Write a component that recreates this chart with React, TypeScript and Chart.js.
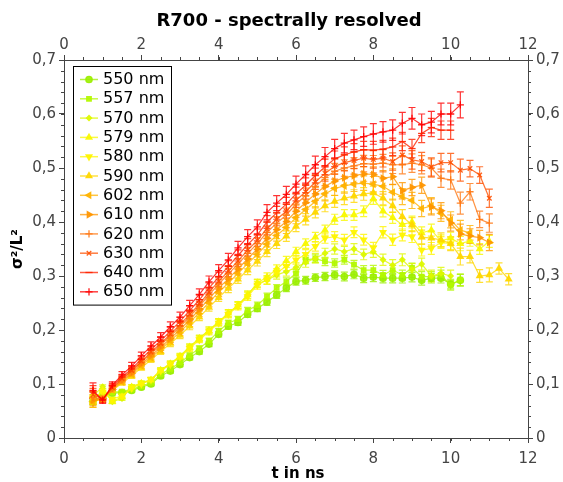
import React, { useEffect, useRef } from 'react';
import { Chart, registerables } from 'chart.js';
import { drawPoint } from 'chart.js/helpers';

Chart.register(...registerables);

const TITLE = 'R700 - spectrally resolved';
const X_TITLE = 't in ns';
const Y_TITLE = 'σ²/L²';
const X_MIN = 0;
const X_MAX = 12;
const X_STEP = 2;
const X_MINOR = 0.5;
const Y_MIN = 0;
const Y_MAX = 0.7;
const Y_STEP = 0.1;
const Y_MINOR = 0.02;

const TIMES = [
  0.75, 1, 1.25, 1.5, 1.75, 2, 2.25, 2.5, 2.75, 3, 3.25, 3.5, 3.75, 4, 4.25, 4.5, 4.75, 5, 5.25, 5.5, 5.75, 6,
  6.25, 6.5, 6.75, 7, 7.25, 7.5, 7.75, 8, 8.25, 8.5, 8.75, 9, 9.25, 9.5, 9.75, 10, 10.25, 10.5, 10.75, 11, 11.25, 11.5,
];

// typical half-width of the error bars at each time
const ERR = [
  0.014, 0.006, 0.006, 0.006, 0.007, 0.007, 0.008, 0.008, 0.009, 0.009, 0.010, 0.010, 0.011, 0.011, 0.012, 0.012,
  0.013, 0.013, 0.014, 0.014, 0.015, 0.015, 0.016, 0.016, 0.017, 0.017, 0.018, 0.018, 0.018, 0.019, 0.019, 0.019,
  0.020, 0.020, 0.020, 0.020, 0.020, 0.020, 0.024, 0.018, 0.018, 0.020, 0.016, 0.016,
];

const LABELS = ['550 nm', '557 nm', '570 nm', '579 nm', '580 nm', '590 nm', '602 nm', '610 nm', '620 nm', '630 nm', '640 nm', '650 nm'];
const COLORS = [
  [155, 238, 0], [180, 248, 0], [222, 248, 0], [248, 248, 0], [255, 245, 0], [255, 215, 0],
  [255, 178, 0], [255, 150, 0], [255, 120, 20], [255, 80, 0], [255, 35, 0], [255, 0, 0],
];
const MARKERS = ['circle', 'rect', 'rectRot', 'triangle', 'triangle', 'triangle', 'triangle', 'triangle', 'cross', 'crossRot', 'line', 'cross'];
const ROTATIONS = [0, 0, 0, 0, 180, 0, 270, 90, 0, 0, 0, 0];
const RADII = [3.2, 3.2, 2.6, 3.4, 3.4, 3.4, 3.4, 3.4, 3.6, 3.2, 3.6, 3.6];
const ERR_SCALE = [0.45, 0.45, 0.55, 0.55, 0.55, 0.65, 0.75, 0.75, 0.85, 0.85, 0.85, 1.0];

const S550 = [
  0.068, 0.076, 0.083, 0.084, 0.088, 0.094, 0.100, 0.115, 0.124, 0.136, 0.149, 0.160, 0.174, 0.192, 0.207, 0.214,
  0.229, 0.240, 0.252, 0.265, 0.278, 0.290, 0.292, 0.297, 0.299, 0.302, 0.299, 0.303, 0.296, 0.298, 0.296, 0.296,
  0.296, 0.298, 0.292, 0.296, 0.296, 0.285, 0.292,
];
const S557 = [
  0.068, 0.078, 0.085, 0.086, 0.090, 0.096, 0.102, 0.118, 0.128, 0.140, 0.153, 0.166, 0.180, 0.198, 0.213, 0.220,
  0.236, 0.246, 0.262, 0.278, 0.290, 0.305, 0.330, 0.332, 0.327, 0.324, 0.330, 0.321, 0.311, 0.311, 0.302, 0.311,
  0.302, 0.315, 0.299, 0.299, 0.302, 0.283, 0.293,
];
const S570 = [
  0.078, 0.095, 0.067, 0.073, 0.095, 0.102, 0.108, 0.126, 0.138, 0.152, 0.169, 0.185, 0.200, 0.215, 0.231, 0.246,
  0.265, 0.286, 0.292, 0.302, 0.308, 0.316, 0.325, 0.333, 0.342, 0.350, 0.345, 0.350, 0.340, 0.345, 0.330, 0.320,
  0.330, 0.312, 0.322, 0.300, 0.305, 0.300,
];
const S579 = [
  0.070, 0.088, 0.068, 0.076, 0.094, 0.101, 0.107, 0.125, 0.137, 0.151, 0.168, 0.184, 0.199, 0.215, 0.231, 0.246,
  0.265, 0.287, 0.298, 0.313, 0.328, 0.345, 0.360, 0.372, 0.385, 0.405, 0.413, 0.413, 0.420, 0.443, 0.420, 0.408,
  0.395, 0.400, 0.380, 0.385, 0.365, 0.370, 0.360, 0.365, 0.350, 0.364,
];
const S580 = [
  0.072, 0.085, 0.072, 0.078, 0.092, 0.100, 0.108, 0.124, 0.136, 0.150, 0.166, 0.182, 0.197, 0.213, 0.229, 0.244,
  0.262, 0.283, 0.293, 0.306, 0.318, 0.330, 0.340, 0.355, 0.370, 0.373, 0.367, 0.381, 0.367, 0.352, 0.381, 0.367,
  0.376, 0.373, 0.348, 0.351, 0.362, 0.360,
];
const S590 = [
  0.066, 0.074, 0.088, 0.102, 0.115, 0.130, 0.145, 0.160, 0.175, 0.190, 0.207, 0.224, 0.242, 0.260, 0.277, 0.294,
  0.311, 0.327, 0.345, 0.360, 0.374, 0.392, 0.405, 0.418, 0.430, 0.438, 0.444, 0.448, 0.452, 0.454, 0.444, 0.430,
  0.410, 0.395, 0.372, 0.370, 0.367, 0.360, 0.336, 0.336, 0.300, 0.302, 0.314, 0.294,
];
const S602 = [
  0.067, 0.073, 0.089, 0.104, 0.118, 0.134, 0.149, 0.164, 0.180, 0.196, 0.214, 0.232, 0.251, 0.270, 0.287, 0.305,
  0.323, 0.340, 0.359, 0.375, 0.390, 0.408, 0.423, 0.438, 0.452, 0.462, 0.467, 0.470, 0.472, 0.470, 0.466, 0.455,
  0.447, 0.440, 0.425, 0.430, 0.416, 0.404, 0.385, 0.380,
];
const S610 = [
  0.070, 0.073, 0.090, 0.106, 0.120, 0.137, 0.152, 0.168, 0.184, 0.201, 0.219, 0.238, 0.258, 0.277, 0.295, 0.313,
  0.332, 0.350, 0.370, 0.386, 0.401, 0.420, 0.436, 0.452, 0.466, 0.476, 0.482, 0.486, 0.489, 0.488, 0.481, 0.484,
  0.458, 0.464, 0.468, 0.428, 0.421, 0.398, 0.378, 0.374, 0.371, 0.362,
];
const S620 = [
  0.075, 0.072, 0.092, 0.108, 0.123, 0.140, 0.156, 0.172, 0.189, 0.206, 0.225, 0.244, 0.265, 0.285, 0.304, 0.322,
  0.342, 0.360, 0.381, 0.398, 0.413, 0.433, 0.449, 0.466, 0.482, 0.494, 0.500, 0.504, 0.508, 0.507, 0.509, 0.506,
  0.506, 0.509, 0.506, 0.500, 0.481, 0.478, 0.435, 0.456, 0.405, 0.398,
];
const S630 = [
  0.080, 0.072, 0.093, 0.110, 0.125, 0.142, 0.159, 0.175, 0.192, 0.210, 0.229, 0.248, 0.270, 0.290, 0.309, 0.328,
  0.348, 0.366, 0.388, 0.405, 0.420, 0.440, 0.456, 0.474, 0.490, 0.503, 0.510, 0.514, 0.518, 0.516, 0.518, 0.512,
  0.524, 0.515, 0.512, 0.502, 0.510, 0.510, 0.496, 0.499, 0.487, 0.444,
];
const S640 = [
  0.085, 0.071, 0.096, 0.113, 0.128, 0.146, 0.164, 0.180, 0.198, 0.216, 0.236, 0.256, 0.278, 0.298, 0.318, 0.338,
  0.358, 0.376, 0.400, 0.417, 0.433, 0.452, 0.468, 0.486, 0.502, 0.517, 0.524, 0.530, 0.534, 0.533, 0.535, 0.539,
  0.549, 0.536, 0.564, 0.575, 0.570, 0.570,
];
const S650 = [
  0.088, 0.070, 0.098, 0.117, 0.133, 0.152, 0.170, 0.187, 0.206, 0.224, 0.245, 0.266, 0.289, 0.310, 0.330, 0.352,
  0.373, 0.391, 0.418, 0.435, 0.451, 0.470, 0.488, 0.506, 0.521, 0.536, 0.546, 0.552, 0.558, 0.563, 0.567, 0.570,
  0.583, 0.592, 0.580, 0.585, 0.600, 0.600, 0.617,
];

const SERIES = [S550, S557, S570, S579, S580, S590, S602, S610, S620, S630, S640, S650];

const FONT = 'DejaVu Sans';
const rgba = (c: number[], a: number) => `rgba(${c[0]},${c[1]},${c[2]},${a})`;
const fmtY = (v: number) => (Math.abs(v) < 1e-9 ? '0' : v.toFixed(1).replace('.', ','));
const fmtX = (v: number) => String(Math.round(v));

const decorPlugin = {
  id: 'decor',
  beforeDatasetsDraw(chart: any) {
    const ctx = chart.ctx;
    const xs = chart.scales.x;
    const ys = chart.scales.y;
    ctx.save();
    chart.data.datasets.forEach((ds: any, k: number) => {
      ctx.strokeStyle = rgba(COLORS[k], 0.8);
      ctx.lineWidth = 1.2;
      ds.data.forEach((p: any, i: number) => {
        const e = ds.errors[i];
        const px = xs.getPixelForValue(p.x);
        const y1 = ys.getPixelForValue(p.y - e);
        const y2 = ys.getPixelForValue(p.y + e);
        ctx.beginPath();
        ctx.moveTo(px, y1);
        ctx.lineTo(px, y2);
        ctx.moveTo(px - 3.5, y1);
        ctx.lineTo(px + 3.5, y1);
        ctx.moveTo(px - 3.5, y2);
        ctx.lineTo(px + 3.5, y2);
        ctx.stroke();
      });
    });
    ctx.restore();
  },
  afterDraw(chart: any) {
    const ctx = chart.ctx;
    const area = chart.chartArea;
    const xs = chart.scales.x;
    const ys = chart.scales.y;
    ctx.save();
    // minor ticks
    ctx.strokeStyle = '#444';
    ctx.lineWidth = 1;
    ctx.beginPath();
    for (let v = X_MIN + X_MINOR; v < X_MAX; v += X_MINOR) {
      const px = Math.round(xs.getPixelForValue(v)) + 0.5;
      ctx.moveTo(px, area.bottom);
      ctx.lineTo(px, area.bottom + 3);
      ctx.moveTo(px, area.top);
      ctx.lineTo(px, area.top - 3);
    }
    for (let v = Y_MIN + Y_MINOR; v < Y_MAX - 1e-9; v += Y_MINOR) {
      const py = Math.round(ys.getPixelForValue(v)) + 0.5;
      ctx.moveTo(area.left, py);
      ctx.lineTo(area.left - 3, py);
      ctx.moveTo(area.right, py);
      ctx.lineTo(area.right + 3, py);
    }
    ctx.stroke();

    // titles
    ctx.fillStyle = '#000';
    ctx.textAlign = 'center';
    ctx.textBaseline = 'middle';
    ctx.font = `bold 18px "${FONT}"`;
    ctx.fillText(TITLE, 289, 21);
    ctx.font = `bold 15px "${FONT}"`;
    ctx.fillText(X_TITLE, 298, 474);
    ctx.save();
    ctx.translate(18, (area.top + area.bottom) / 2);
    ctx.rotate(-Math.PI / 2);
    ctx.fillText(Y_TITLE, 0, 0);
    ctx.restore();

    // legend
    const lx = area.left + 9;
    const ly = area.top + 6;
    const rowH = 19.3;
    const boxW = 98;
    const boxH = rowH * LABELS.length + 7;
    ctx.fillStyle = '#fff';
    ctx.fillRect(lx, ly, boxW, boxH);
    ctx.strokeStyle = '#000';
    ctx.lineWidth = 1;
    ctx.strokeRect(Math.round(lx) + 0.5, Math.round(ly) + 0.5, boxW, boxH);
    ctx.font = `16px "${FONT}"`;
    ctx.textAlign = 'left';
    ctx.textBaseline = 'middle';
    LABELS.forEach((lab, k) => {
      const y = ly + 13.5 + k * rowH;
      ctx.strokeStyle = rgba(COLORS[k], 0.75);
      ctx.lineWidth = 1.5;
      ctx.beginPath();
      ctx.moveTo(lx + 7, y);
      ctx.lineTo(lx + 25, y);
      ctx.stroke();
      ctx.fillStyle = rgba(COLORS[k], 0.9);
      ctx.strokeStyle = rgba(COLORS[k], 0.9);
      ctx.lineWidth = 1.3;
      drawPoint(ctx, { pointStyle: MARKERS[k], radius: RADII[k], rotation: ROTATIONS[k], borderWidth: 1.3 } as any, lx + 16, y);
      ctx.fillStyle = '#000';
      ctx.fillText(lab, lx + 30, y + 0.5);
    });
    ctx.restore();
  },
};

export default function App() {
  const ref = useRef<HTMLCanvasElement | null>(null);
  useEffect(() => {
    document.body.style.margin = '0';
    document.body.style.overflow = 'hidden';
    const canvas = ref.current;
    if (!canvas) return;
    const datasets = SERIES.map((vals, k) => ({
      label: LABELS[k],
      data: vals.map((v, i) => ({ x: TIMES[i], y: v })),
      errors: vals.map((_, i) => ERR[i] * ERR_SCALE[k]),
      borderColor: rgba(COLORS[k], 0.8),
      backgroundColor: rgba(COLORS[k], 0.9),
      pointBorderColor: rgba(COLORS[k], 0.9),
      pointBackgroundColor: rgba(COLORS[k], 0.9),
      borderWidth: 1.2,
      pointStyle: MARKERS[k],
      pointRotation: ROTATIONS[k],
      pointRadius: RADII[k],
      pointHoverRadius: RADII[k],
      pointBorderWidth: 1.3,
      showLine: true,
      tension: 0,
      fill: false,
      order: SERIES.length - 1 - k,
      xAxisID: 'x',
      yAxisID: 'y',
    }));
    const tickFont = { family: FONT, size: 15 };
    const grid = { display: true, drawOnChartArea: false, drawTicks: true, tickLength: 5, color: '#444', lineWidth: 1 };
    const border = { display: true, color: '#444', width: 1 };
    const chart = new Chart(canvas, {
      type: 'line',
      data: { datasets: datasets as any },
      plugins: [decorPlugin as any],
      options: {
        responsive: false,
        animation: false,
        devicePixelRatio: 1,
        layout: { padding: 0 },
        plugins: {
          legend: { display: false },
          title: { display: false },
          tooltip: { enabled: false },
        },
        scales: {
          x: {
            type: 'linear', position: 'bottom', min: X_MIN, max: X_MAX,
            ticks: { stepSize: X_STEP, font: tickFont, color: '#444', padding: 7, maxRotation: 0, callback: (v: any) => fmtX(v) },
            grid, border,
            afterFit: (s: any) => { s.height = 44; },
          },
          x2: {
            type: 'linear', position: 'top', min: X_MIN, max: X_MAX,
            ticks: { stepSize: X_STEP, font: tickFont, color: '#444', padding: 1, maxRotation: 0, callback: (v: any) => fmtX(v) },
            grid, border,
            afterFit: (s: any) => { s.height = 60; },
          },
          y: {
            type: 'linear', position: 'left', min: Y_MIN, max: Y_MAX,
            ticks: { stepSize: Y_STEP, font: tickFont, color: '#444', padding: 3, callback: (v: any) => fmtY(v) },
            grid, border,
            afterFit: (s: any) => { s.width = 64; },
          },
          y2: {
            type: 'linear', position: 'right', min: Y_MIN, max: Y_MAX,
            ticks: { stepSize: Y_STEP, font: tickFont, color: '#444', padding: 3, callback: (v: any) => fmtY(v) },
            grid, border,
            afterFit: (s: any) => { s.width = 35; },
          },
        },
      } as any,
    });
    return () => chart.destroy();
  }, []);
  return (
    <div style={{ width: 563, height: 482 }}>
      <canvas ref={ref} width={563} height={482} style={{ display: 'block' }} />
    </div>
  );
}
